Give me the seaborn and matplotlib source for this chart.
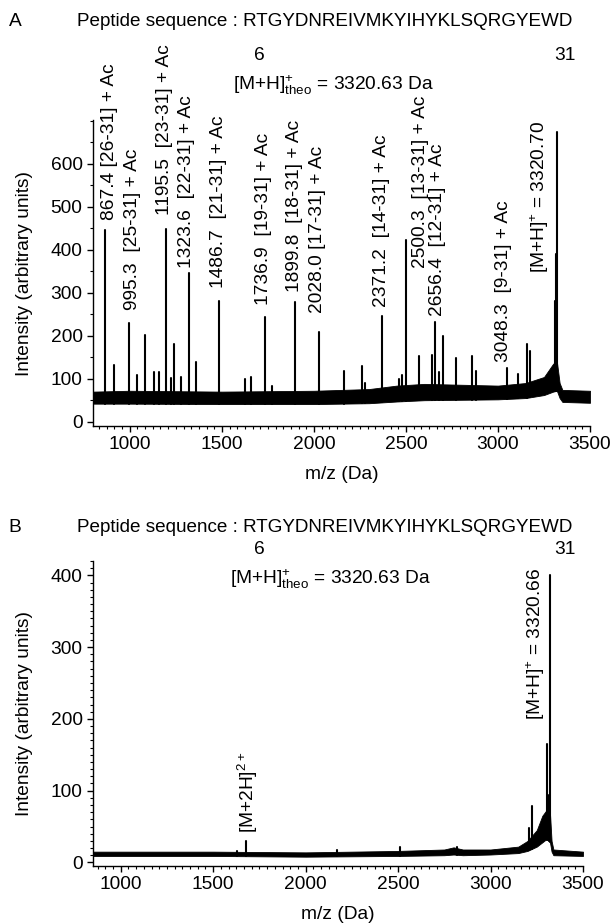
import numpy as np
import pandas as pd
import matplotlib
matplotlib.use('Agg')
import matplotlib.pyplot as plt
from matplotlib.ticker import MultipleLocator
import seaborn as sns

# ── ESTILO ──
sns.set_style('ticks')
plt.rcParams['font.family'] = ['Liberation Sans', 'DejaVu Sans']
plt.rcParams['mathtext.fontset'] = 'custom'
plt.rcParams['mathtext.rm'] = 'Liberation Sans'
plt.rcParams['mathtext.it'] = 'Liberation Sans:italic'
plt.rcParams['mathtext.bf'] = 'Liberation Sans:bold'
for clave in ['text.color', 'axes.labelcolor', 'xtick.color', 'ytick.color']:
    plt.rcParams[clave] = 'black'

SECUENCIA = 'Peptide sequence : RTGYDNREIVMKYIHYKLSQRGYEWD'

# ── PANEL A: picos (m/z, intensidad) ──
a_mz = [867.4, 913, 995.3, 1040, 1085, 1130, 1158, 1195.5, 1223, 1241, 1280,
        1323.6, 1357, 1486.7, 1625, 1661, 1736.9, 1775, 1899.8, 2028.0, 2163,
        2259, 2280, 2371.2, 2460, 2480, 2500.3, 2571, 2640, 2656.4, 2678, 2699,
        2772, 2857, 2880, 3048.3, 3110, 3160, 3172, 3312, 3317, 3320.7]
a_int = [445, 131, 230, 109, 202, 115, 115, 449, 102, 181, 105,
         347, 138, 282, 100, 103, 244, 83, 279, 208, 117,
         130, 90, 246, 100, 108, 423, 153, 155, 231, 115, 200,
         148, 153, 118, 126, 112, 180, 165, 280, 390, 675]

# ruido de fondo A (envolvente inferior / superior)
a_env_mz = [800, 1000, 1500, 2000, 2300, 2450, 2600, 2800, 3000, 3150, 3250, 3300, 3320, 3335, 3350, 3500]
a_env_lo = [42, 42, 41, 41, 43, 47, 50, 51, 52, 55, 62, 70, 72, 55, 46, 44]
a_env_hi = [70, 72, 70, 72, 76, 84, 88, 86, 84, 90, 104, 135, 140, 90, 74, 72]

a_etiquetas = ['867.4 [26-31] + Ac', '995.3  [25-31] + Ac', '1195.5  [23-31] + Ac',
               '1323.6  [22-31] + Ac', '1486.7  [21-31] + Ac', '1736.9  [19-31] + Ac',
               '1899.8  [18-31] + Ac', '2028.0 [17-31] + Ac', '2371.2  [14-31] + Ac',
               '2500.3  [13-31] + Ac', '2656.4  [12-31] + Ac', '3048.3  [9-31] + Ac',
               '[M+H]$^{+}$ = 3320.70']
a_etq_x = [891, 1015, 1190, 1310, 1480, 1725, 1897, 2022, 2368, 2580, 2674, 3030, 3228]
a_etq_y = [470, 260, 481, 358, 311, 272, 302, 253, 268, 358, 245, 140, 346]

# ── PANEL B ──
b_mz = [1630, 1680, 2170, 2510, 2820, 3210, 3225, 3305, 3316, 3320.7]
b_int = [16, 30, 17, 21, 22, 48, 78, 165, 94, 400]

b_env_mz = [850, 1500, 2000, 2500, 2750, 2800, 2850, 3000, 3150, 3200, 3250, 3280, 3300, 3320, 3330, 3340, 3500]
b_env_lo = [9, 9, 8, 9, 10, 11, 10, 11, 13, 16, 22, 28, 32, 30, 15, 10, 9]
b_env_hi = [15, 15, 14, 16, 18, 21, 18, 18, 22, 30, 45, 65, 72, 75, 30, 18, 15]

b_etiquetas = ['[M+2H]$^{2+}$', '[M+H]$^{+}$ = 3320.66']
b_etq_x = [1689, 3246]
b_etq_y = [41, 198]

TEO = '[M+H]$^{+}_{\\mathrm{theo}}$ = 3320.63 Da'

W, H = 611, 923
FS = 13.8
FS_TIT = 13.6
fig = plt.figure(figsize=(W / 100, H / 100), dpi=100)


def caja(izq, der, arriba, abajo):
    return [izq / W, 1 - abajo / H, (der - izq) / W, (abajo - arriba) / H]


def dibujar_espectro(ax, mz, inten, env_mz, env_lo, env_hi):
    ax.fill_between(env_mz, env_lo, env_hi, color='black', lw=0.6)
    base = np.interp(mz, env_mz, env_lo)
    df = pd.DataFrame({
        'mz': np.repeat(mz, 2),
        'intensidad': np.ravel(np.column_stack([base, inten])),
        'pico': np.repeat(np.arange(len(mz)), 2),
    })
    sns.lineplot(data=df, x='mz', y='intensidad', units='pico', estimator=None,
                 sort=False, color='black', lw=1.5, ax=ax, legend=False)


def formato(ax, xlim, ylim, y_mayor, y_menor):
    ax.set_xlim(*xlim)
    ax.set_ylim(*ylim)
    ax.xaxis.set_major_locator(MultipleLocator(500))
    ax.xaxis.set_minor_locator(MultipleLocator(250 / 6))
    ax.yaxis.set_major_locator(MultipleLocator(y_mayor))
    ax.yaxis.set_minor_locator(MultipleLocator(y_menor))
    ax.tick_params(which='major', direction='out', length=4, width=1, labelsize=FS, color='black')
    ax.tick_params(which='minor', direction='out', length=2.5, width=0.8, color='black')
    sns.despine(ax=ax)
    for s in ['left', 'bottom']:
        ax.spines[s].set_color('black')
        ax.spines[s].set_linewidth(1)
    ax.set_xlabel('m/z (Da)', fontsize=FS)
    ax.set_ylabel('Intensity (arbitrary units)', fontsize=FS)


def texto_fig(x, y, s, **kw):
    fig.text(x / W, 1 - y / H, s, **kw)


# ── A ──
axA = fig.add_axes(caja(93, 590, 120, 426))
dibujar_espectro(axA, a_mz, a_int, a_env_mz, a_env_lo, a_env_hi)
formato(axA, (800, 3500), (-10, 702), 100, 50)
axA.set_yticks([0, 100, 200, 300, 400, 500, 600])
axA.xaxis.labelpad = 9
axA.yaxis.set_label_coords(-0.12, 0.5)
for s, x, y in zip(a_etiquetas, a_etq_x, a_etq_y):
    axA.text(x, y, s, rotation=90, ha='center', va='bottom', fontsize=FS)

texto_fig(15, 22, 'A', ha='center', va='center', fontsize=FS)
texto_fig(77, 22, SECUENCIA, ha='left', va='center', fontsize=FS_TIT)
texto_fig(259, 55, '6', ha='center', va='center', fontsize=FS)
texto_fig(565, 55, '31', ha='center', va='center', fontsize=FS)
texto_fig(333, 85, TEO, ha='center', va='center', fontsize=FS)

# ── B ──
axB = fig.add_axes(caja(93, 583, 561, 866))
dibujar_espectro(axB, b_mz, b_int, b_env_mz, b_env_lo, b_env_hi)
formato(axB, (850, 3500), (-5, 420), 100, 10)
axB.set_yticks([0, 100, 200, 300, 400])
axB.xaxis.labelpad = 9
axB.yaxis.set_label_coords(-0.122, 0.5)
for s, x, y in zip(b_etiquetas, b_etq_x, b_etq_y):
    axB.text(x, y, s, rotation=90, ha='center', va='bottom', fontsize=FS)

texto_fig(15, 527, 'B', ha='center', va='center', fontsize=FS)
texto_fig(77, 527, SECUENCIA, ha='left', va='center', fontsize=FS_TIT)
texto_fig(259, 549, '6', ha='center', va='center', fontsize=FS)
texto_fig(565, 549, '31', ha='center', va='center', fontsize=FS)
texto_fig(330, 579, TEO, ha='center', va='center', fontsize=FS)

fig.savefig('out.png', dpi=100)
plt.close(fig)
